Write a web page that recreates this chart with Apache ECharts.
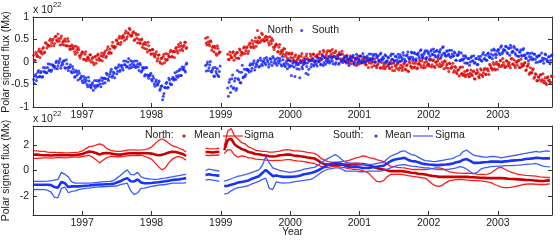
<!DOCTYPE html>
<html><head><meta charset="utf-8">
<script src="https://cdn.jsdelivr.net/npm/echarts@6/dist/echarts.min.js"></script>
<style>html,body{margin:0;padding:0;background:#fff}#c{width:560px;height:242px}</style>
</head><body><div id="c"></div>
<script>
// ---------------- DATA ----------------
const yearTicks = [1997, 1998, 1999, 2000, 2001, 2002, 2003];
const topYTicks = [-1, -0.5, 0, 0.5, 1];
const bottomYTicks = [-2, 0, 2];

// Top panel: polar signed flux samples, units of 1e20 Mx (0.01 x 1e22), cadence 0.02 yr, two interleaved sample sets
const topCadence = 0.02;
const topStarts = [1996.30, 1998.78, 1999.10];
const topStarts2 = [1996.31, 1998.79, 1999.11];
const northA = [15,4,17,13,29,21,18,32,22,42,38,35,51,42,51,41,57,46,52,38,58,44,38,46,36,46,29,35,30,35,17,27,32,14,15,23,6,17,3,11,4,16,6,-1,11,-3,15,9,5,20,12,20,10,28,19,29,20,44,35,34,47,42,57,44,56,55,64,51,65,75,59,60,67,50,60,43,50,41,51,39,30,39,22,36,26,18,28,14,17,2,15,1,8,-4,17,6,4,17,11,26,13,24,23,33,20,34,43,29,34,44,30];
const northB = [53,38,45,36,45,32,23,31,15,30,22];
const northC = [17,5,15,10,23,14,9,21,8,26,21,18,34,25,34,24,42,32,41,31,54,44,42,54,48,61,47,54,49,55,38,47,52,33,34,40,23,33,18,26,18,29,17,9,18,2,17,9,3,16,4,10,-2,13,1,9,-3,18,6,3,13,6,18,3,13,10,18,4,17,26,11,15,25,11,24,10,20,13,25,14,7,17,2,17,9,3,15,3,8,-4,10,-2,5,-8,13,1,-3,6,-2,9,-6,2,-2,5,-11,0,7,-9,-7,2,-14,-1,-14,-5,-11,2,-8,-15,-4,-19,-2,-9,-14,-2,-13,-7,-19,-4,-16,-8,-20,1,-10,-14,-3,-11,2,-13,-3,-6,2,-13,-1,7,-8,-5,4,-11,3,-10,0,-6,7,-4,-10,0,-15,1,-7,-14,-2,-14,-10,-23,-10,-23,-18,-31,-11,-25,-30,-21,-29,-18,-33,-25,-28,-21,-37,-25,-17,-32,-28,-18,-32,-17,-28,-16,-20,-5,-13,-18,-6,-18,0,-6,-10,4,-7,-1,-12,3,-9,-1,-13,8,-4,-8,1,-7,4,-12,-4,-8,-3,-19,-9,-4,-24,-24,-18,-36,-26,-41,-33,-40,-28,-39,-46,-35,-50,-33,-40,-45,-32];
const southA = [-39,-31,-41,-23,-33,-24,-34,-12,-22,-24,-12,-19,-5,-18,-8,-9,-1,-15,-2,7,-8,-5,3,-14,-4,-19,-12,-21,-10,-23,-32,-23,-40,-25,-35,-42,-32,-45,-41,-55,-42,-55,-50,-63,-41,-52,-54,-43,-49,-35,-48,-36,-37,-28,-41,-26,-16,-30,-25,-13,-26,-11,-21,-9,-13,2,-6,-11,0,-14,3,-4,-10,2,-10,-5,-19,-6,-20,-16,-31,-13,-29,-36,-29,-39,-31,-49,-44,-50,-46,-63,-54,-84,-70,-57,-45,-56,-40,-50,-37,-40,-24,-31,-34,-19,-30,-11,-16,-19,-5];
const southB = [-8,-5,-19,-6,-21,-17,-31,-12,-26,-30,-21];
const southC = [-58,-45,-68,-37,-59,-42,-63,-19,-40,-46,-23,-35,-16,-28,-16,-17,-7,-20,-6,3,-11,-7,4,-10,4,-8,2,-3,10,0,-5,6,-8,9,2,-3,9,-2,3,-9,5,-8,-2,-15,5,-8,-30,-3,-11,0,-15,-6,-35,-1,-15,-3,6,-10,-28,4,-11,3,-9,1,-4,9,0,-6,6,-8,10,3,-1,12,1,8,-4,11,-1,7,-5,16,4,-1,9,1,12,-3,6,4,11,-4,8,17,1,4,13,-1,12,0,10,5,18,8,3,14,0,17,9,4,17,6,11,-1,14,2,9,-3,18,6,2,12,5,17,2,11,8,15,1,14,22,7,11,20,6,19,7,17,12,25,16,10,21,7,25,18,13,27,16,23,11,26,15,22,11,32,20,15,24,15,26,10,18,14,20,4,15,22,4,6,14,-2,10,-3,7,0,13,3,-3,8,-6,12,6,3,17,7,15,4,20,10,18,7,29,18,16,27,20,33,19,28,26,34,19,30,37,21,23,31,15,27,13,22,15,27,16,9,19,3,19,11,5,18,6,12,0,15,3,9,-3,18,6,2,12,4,16];
const northA2 = [4,21,12,24,10,24,30,20,43,31,38,48,36,48,36,56,49,62,46,53,39,47,51,36,52,35,28,38,30,23,35,21,28,9,19,21,6,23,7,9,16,0,10,-6,13,5,18,4,14,3,16,24,13,34,22,20,36,33,31,49,40,53,39,53,59,48,69,56,62,72,57,65,48,64,53,61,43,49,33,41,44,29,44,26,18,28,19,11,23,8,16,-3,9,12,-1,19,6,13,23,11,23,10,30,25,39,26,36,25,37,44,32];
const northB2 = [42,55,40,47,26,35,35,19,36,19,22];
const northC2 = [6,22,10,21,4,17,21,9,29,15,21,31,19,31,19,39,34,48,35,46,35,47,55,44,64,50,46,57,49,43,56,41,48,28,38,38,23,39,22,24,30,13,21,4,20,10,20,4,12,-1,8,14,1,19,4,0,13,7,2,18,6,17,0,12,16,3,23,9,14,23,9,20,6,25,17,28,13,21,7,16,21,7,24,7,1,13,6,0,14,2,11,-6,6,8,-5,14,-1,2,10,-6,4,-12,5,-3,8,-8,0,-13,-4,2,-12,6,-9,-15,-2,-8,-13,1,-11,-2,-19,-7,-4,-18,1,-14,-10,-2,-17,-6,-21,-3,-10,2,-12,-3,-15,-5,2,-11,8,-7,-12,1,-4,-9,6,-6,5,-12,0,3,-10,8,-7,-4,3,-13,-4,-21,-4,-13,-3,-19,-12,-26,-18,-13,-27,-11,-27,-33,-20,-27,-32,-18,-30,-20,-38,-26,-23,-35,-15,-29,-24,-14,-27,-15,-28,-8,-14,-1,-15,-4,-16,-5,2,-10,8,-7,-11,2,-4,-8,7,-5,5,-12,-1,2,-12,6,-10,-7,-1,-17,-9,-27,-13,-24,-15,-33,-27,-42,-34,-29,-43,-26,-42,-47,-35,-41,-46,-31,-43];
const southA2 = [-48,-28,-34,-19,-32,-21,-32,-21,-13,-24,-4,-18,-21,-6,-11,-14,2,-9,2,-14,-1,2,-12,5,-13,-11,-6,-24,-16,-34,-19,-29,-20,-37,-31,-46,-39,-35,-50,-34,-51,-57,-46,-53,-57,-41,-51,-40,-55,-41,-36,-46,-25,-38,-32,-21,-34,-22,-35,-14,-20,-6,-18,-7,-18,-6,2,-10,8,-7,-12,1,-6,-12,2,-11,-3,-22,-12,-12,-28,-12,-31,-30,-25,-42,-36,-54,-40,-51,-42,-59,-53,-76,-56,-48,-58,-36,-48,-50,-34,-37,-39,-21,-30,-16,-30,-16,-11,-22,-2];
const southB2 = [-20,0,-13,1,-22,-13,-32,-21,-15,-32,-9];
const southC2 = [-76,-39,-54,-29,-57,-36,-59,-37,-22,-46,-7,-33,-32,-16,-19,-22,-4,-14,-2,-18,-4,0,-11,9,-5,0,8,-6,4,-11,8,0,12,-3,6,-7,2,8,-6,12,-4,-10,2,-5,-11,3,-9,0,-32,-6,-3,-16,4,-11,-6,2,-25,-2,-16,3,-5,8,-6,3,-9,1,8,-5,14,-1,-5,8,3,-2,13,2,12,-5,7,11,-2,17,2,5,13,-2,7,-8,10,3,15,0,9,-3,7,13,0,19,4,0,13,8,3,18,7,17,0,12,14,1,20,5,8,16,1,11,-4,14,6,18,3,12,0,10,16,3,21,6,2,16,10,6,22,10,21,4,17,20,8,27,13,17,25,10,21,6,24,17,29,15,24,11,22,28,16,34,19,13,25,18,12,26,13,22,4,15,17,3,20,4,7,14,-2,8,-7,10,2,14,-1,8,-5,6,13,2,21,7,4,18,13,10,26,15,26,10,24,28,16,36,22,26,35,21,31,15,32,24,35,19,27,13,22,27,13,30,14,8,20,12,6,20,7,17,-1,11,14,1,20,4,8,16,1,11,-4,14,6];

// Bottom panel: mean and mean +/- sigma (units of 1e22 Mx), cadence 0.05 yr, segments of 45, 5, 95 samples
const bottomCadence = 0.05;
const bottomStarts = [1996.30, 1998.78, 1999.05];
const bottomLengths = [45, 5, 95];
const northMean = [1.25,1.25,1.22,1.2,1.2,1.18,1.2,1.2,1.22,1.2, 1.2,1.2,1.22,1.25,1.3,1.4,1.49,1.45,1.38,1.25, 1.35,1.38,1.36,1.3,1.26,1.25,1.3,1.34,1.36,1.36, 1.35,1.36,1.36,1.36,1.33,1.25,1.2,1.23,1.32,1.42, 1.48,1.45,1.38,1.3,1.15,
  1.45,1.45,1.42,1.45,1.47,
  1.6,2.4,2.5,2.05,1.85,1.7,1.6,1.45,1.4,1.3, 1.28,1.22,1.18,1.12,1.1,1.12,1.2,1.22,1.25,1.25, 1.18,1.15,1.12,1.08,1.02,0.99,0.95,0.8,0.6,0.5, 0.45,0.45,0.47,0.45,0.45,0.47,0.45,0.5,0.52,0.5, 0.5,0.45,0.4,0.3,0.2,0.12,0.08,0.02,-0.05,-0.05, -0.05,-0.05,-0.08,-0.12,-0.18,-0.2,-0.25,-0.28,-0.31,-0.38, -0.42,-0.45,-0.5,-0.5,-0.5,-0.5,-0.5,-0.5,-0.5,-0.5, -0.5,-0.52,-0.53,-0.55,-0.57,-0.58,-0.6,-0.6,-0.6,-0.6, -0.6,-0.62,-0.65,-0.67,-0.68,-0.7,-0.72,-0.74,-0.75,-0.77, -0.8,-0.82,-0.82,-0.8,-0.78];
const northUpper = [1.55,1.55,1.5,1.5,1.45,1.42,1.42,1.4,1.4,1.38, 1.38,1.4,1.42,1.45,1.55,1.7,1.88,1.92,2.0,2.1, 2.0,1.75,1.6,1.55,1.5,1.5,1.55,1.6,1.62,1.62, 1.6,1.62,1.65,1.7,1.85,2.1,2.35,2.5,2.35,2.15, 1.95,1.85,1.75,1.65,1.45,
  1.75,1.72,1.7,1.72,1.75,
  1.9,3.1,3.3,2.7,2.45,2.2,2.1,1.85,1.75,1.6, 1.55,1.5,1.5,1.45,1.45,1.48,1.52,1.6,1.65,1.62, 1.55,1.55,1.52,1.48,1.42,1.39,1.35,1.2,0.95,0.8, 0.7,0.65,0.6,0.65,0.7,0.73,0.8,0.9,1.0,1.05, 1.15,1.1,0.99,0.95,0.85,0.78,0.7,0.5,0.34,0.3, 0.25,0.22,0.2,0.15,0.08,0.08,0.08,0.08,0.08,0.1, 0.15,0.2,0.2,0.15,0.0,-0.1,-0.15,-0.2,-0.2,-0.22, -0.2,-0.22,-0.25,-0.28,-0.3,-0.3,-0.28,-0.2,0.0,0.2, 0.25,0.1,-0.05,-0.15,-0.25,-0.3,-0.35,-0.38,-0.4,-0.42, -0.45,-0.5,-0.52,-0.55,-0.55];
const northLower = [0.95,0.95,0.98,1.0,1.0,0.98,1.0,1.02,1.02,1.0, 1.02,1.05,1.05,1.05,1.1,1.15,1.2,1.05,0.85,0.6, 0.8,1.0,1.1,1.1,1.08,1.1,1.12,1.15,1.18,1.18, 1.18,1.2,1.12,1.02,0.9,0.6,0.3,0.05,0.22,0.6, 0.9,1.05,1.1,1.0,0.8,
  1.2,1.18,1.2,1.2,1.22,
  1.3,1.65,1.6,1.2,1.05,1.15,1.1,1.0,1.0,0.9, 0.88,0.85,0.82,0.8,0.78,0.8,0.8,0.82,0.85,0.86, 0.8,0.75,0.73,0.7,0.65,0.6,0.55,0.45,0.3,0.22, 0.25,0.3,0.34,0.3,0.25,0.21,0.15,0.1,0.1,0.05, 0.0,-0.1,-0.3,-0.6,-0.85,-0.9,-0.8,-0.5,-0.31,-0.3, -0.3,-0.31,-0.35,-0.4,-0.44,-0.48,-0.52,-0.57,-0.6,-0.8, -1.05,-1.2,-1.25,-1.15,-0.95,-0.8,-0.75,-0.72,-0.7,-0.72, -0.75,-0.78,-0.8,-0.8,-0.82,-0.86,-0.9,-0.95,-1.1,-1.2, -1.3,-1.35,-1.35,-1.3,-1.25,-1.2,-1.12,-1.08,-1.05,-1.06, -1.08,-1.1,-1.1,-1.08,-1.05];
const southMean = [-1.12,-1.12,-1.12,-1.12,-1.12,-1.15,-1.3,-1.35,-0.9,-1.0, -1.3,-1.25,-1.25,-1.25,-1.22,-1.2,-1.18,-1.15,-1.12,-1.1, -1.1,-1.08,-1.07,-1.05,-0.95,-0.85,-0.7,-0.6,-0.85,-0.86, -0.7,-0.95,-1.0,-1.0,-0.98,-0.95,-0.92,-0.88,-0.85,-0.8, -0.75,-0.72,-0.7,-0.65,-0.6,
  -0.35,-0.3,-0.35,-0.38,-0.4,
  -1.23,-1.2,-1.12,-1.05,-0.95,-0.9,-0.85,-0.78,-0.65,-0.55, -0.45,-0.2,0.05,-0.2,-0.44,-0.4,-0.45,-0.5,-0.5,-0.5, -0.48,-0.45,-0.4,-0.3,-0.25,-0.2,-0.12,0.0,0.15,0.3, 0.45,0.52,0.6,0.58,0.5,0.35,0.3,0.3,0.32,0.25, 0.2,0.2,0.21,0.25,0.3,0.34,0.38,0.55,0.73,0.85, 0.9,0.95,1.0,0.85,0.75,0.72,0.65,0.55,0.5,0.47, 0.45,0.42,0.42,0.45,0.47,0.5,0.55,0.65,0.7,0.85, 0.9,0.75,0.6,0.6,0.62,0.65,0.67,0.7,0.7,0.7, 0.68,0.72,0.74,0.78,0.8,0.82,0.85,0.9,0.93,0.95, 1.0,0.98,0.95,0.95,0.95];
const southUpper = [-0.86,-0.85,-0.85,-0.86,-0.84,-0.8,-0.75,-0.7,-0.15,-0.3, -0.5,-0.9,-1.0,-1.0,-1.0,-1.0,-1.0,-0.98,-0.95,-0.92, -0.9,-0.88,-0.86,-0.8,-0.6,-0.4,-0.15,0.05,-0.3,-0.34, -0.15,-0.5,-0.6,-0.65,-0.68,-0.7,-0.68,-0.62,-0.6,-0.55, -0.5,-0.45,-0.4,-0.35,-0.3,
  0.0,0.1,0.05,0.0,-0.05,
  -0.84,-0.75,-0.65,-0.55,-0.45,-0.4,-0.33,-0.25,-0.15,-0.05, 0.05,0.4,1.1,0.6,0.2,0.1,0.0,-0.05,-0.1,-0.15, -0.1,-0.05,0.0,0.1,0.15,0.2,0.25,0.4,0.6,0.8, 0.95,1.1,1.25,1.1,0.85,0.65,0.6,0.55,0.55,0.55, 0.5,0.47,0.47,0.5,0.55,0.6,0.65,0.9,1.12,1.25, 1.35,1.5,1.55,1.4,1.25,1.2,1.05,0.9,0.78,0.75, 0.72,0.7,0.75,0.8,0.85,0.9,0.95,1.1,1.2,1.5, 1.6,1.4,1.2,1.15,1.1,1.05,1.05,1.1,1.1,1.05, 1.0,1.05,1.1,1.15,1.2,1.25,1.3,1.35,1.4,1.45, 1.5,1.45,1.5,1.55,1.5];
const southLower = [-1.5,-1.48,-1.5,-1.5,-1.55,-1.7,-2.1,-2.15,-1.4,-1.3, -1.75,-1.65,-1.6,-1.5,-1.45,-1.4,-1.38,-1.35,-1.3,-1.28, -1.28,-1.27,-1.25,-1.25,-1.2,-1.12,-1.05,-1.0,-1.6,-1.9, -1.75,-1.4,-1.39,-1.3,-1.25,-1.2,-1.15,-1.12,-1.1,-1.05, -1.0,-1.0,-1.0,-1.0,-0.95,
  -0.75,-0.7,-0.75,-0.8,-0.85,
  -1.85,-1.8,-1.6,-1.45,-1.35,-1.3,-1.25,-1.18,-1.05,-0.95, -0.85,-0.7,-0.6,-1.4,-1.5,-0.9,-0.95,-1.0,-0.97,-0.95, -0.9,-0.86,-0.82,-0.78,-0.74,-0.7,-0.55,-0.35,-0.15,0.0, 0.1,0.15,0.2,0.2,0.1,-0.05,-0.05,-0.05,-0.05,-0.1, -0.1,-0.08,-0.05,-0.05,-0.05,-0.05,0.0,0.1,0.21,0.3, 0.4,0.45,0.47,0.4,0.34,0.32,0.28,0.25,0.21,0.2, 0.15,0.1,0.08,0.08,0.08,0.1,0.15,0.2,0.3,0.25, 0.1,-0.1,-0.25,-0.15,0.1,0.2,0.25,0.3,0.32,0.34, 0.35,0.38,0.38,0.38,0.4,0.42,0.45,0.48,0.5,0.52, 0.55,0.45,0.35,0.3,0.28];

// ---------------- BUILD ----------------
const r3 = v => Math.round(v * 1000) / 1000;
function scatterPts(segs, starts) {
  const out = [];
  segs.forEach((vals, s) => vals.forEach((v, i) => out.push([r3(starts[s] + i * topCadence), v / 100])));
  return out;
}
function linePts(vals) {
  const out = []; let idx = 0;
  bottomLengths.forEach((n, s) => {
    if (s > 0) out.push([r3(bottomStarts[s] - 0.02), '-']);
    for (let i = 0; i < n; i++) out.push([r3(bottomStarts[s] + i * bottomCadence), vals[idx++]]);
  });
  return out;
}

const FONT = 'Liberation Sans';
const AX = '#333';
const TXT = '#222';
const xMin = 1996.29, xMax = 2003.78;

function xAxisDef(gridIndex, pos, labels, name) {
  return {
    type: 'value', gridIndex, position: pos, min: xMin, max: xMax,
    axisLine: { show: true, onZero: false, lineStyle: { color: AX, width: 1 } },
    axisTick: { show: true, inside: true, length: 4, customValues: yearTicks, lineStyle: { color: AX } },
    axisLabel: { show: labels, customValues: yearTicks, margin: 3, color: TXT, fontFamily: FONT, fontSize: 10.5, formatter: v => String(v) },
    splitLine: { show: false },
    name: name || '', nameLocation: 'middle', nameGap: 12, nameMoveOverlap: false,
    nameTextStyle: { color: TXT, fontFamily: FONT, fontSize: 10.5, verticalAlign: 'top' }
  };
}
function yAxisDef(gridIndex, pos, labels, min, max, ticks, name) {
  return {
    type: 'value', gridIndex, position: pos, min, max,
    axisLine: { show: true, onZero: false, lineStyle: { color: AX, width: 1 } },
    axisTick: { show: true, inside: true, length: 4, customValues: ticks, lineStyle: { color: AX } },
    axisLabel: { show: labels, customValues: ticks, margin: 4, color: TXT, fontFamily: FONT, fontSize: 10.5 },
    splitLine: { show: false },
    name: name || '', nameLocation: 'middle', nameGap: 27, nameMoveOverlap: false,
    nameTextStyle: { color: TXT, fontFamily: FONT, fontSize: 10.5, verticalAlign: 'middle' }
  };
}

const RED_DOT = '#e00000', BLUE_DOT = '#1020ff';
const RED_MEAN = '#c80000', RED_SIG = '#ff1c1c';
const BLUE_MEAN = '#1a34f5', BLUE_SIG = '#3d5cff';

function lineSeries(name, vals, color, width, z) {
  return { name, type: 'line', xAxisIndex: 2, yAxisIndex: 2, data: linePts(vals), showSymbol: false, symbol: 'none',
    connectNulls: false, lineStyle: { color, width }, itemStyle: { color }, z, silent: true };
}

const chart = echarts.init(document.getElementById('c'), null, { renderer: 'canvas' });
chart.setOption({
  animation: false,
  backgroundColor: '#fff',
  grid: [
    { left: 33, top: 17, width: 519, height: 90, outerBoundsMode: 'none', containLabel: false },
    { left: 33, top: 126, width: 519, height: 89, outerBoundsMode: 'none', containLabel: false }
  ],
  xAxis: [
    xAxisDef(0, 'bottom', true), xAxisDef(0, 'top', false),
    xAxisDef(1, 'bottom', true, 'Year'), xAxisDef(1, 'top', false)
  ],
  yAxis: [
    yAxisDef(0, 'left', true, -1, 1, topYTicks, 'Polar signed flux (Mx)'), yAxisDef(0, 'right', false, -1, 1, topYTicks),
    yAxisDef(1, 'left', true, -3.5, 3.5, bottomYTicks, 'Polar signed flux (Mx)'), yAxisDef(1, 'right', false, -3.5, 3.5, bottomYTicks)
  ],
  legend: {
    data: [{ name: 'North', icon: 'circle' }, { name: 'South', icon: 'circle' }],
    left: 251, top: 20, itemWidth: 10, itemHeight: 3, itemGap: 7,
    textStyle: { color: TXT, fontFamily: FONT, fontSize: 10.5 }, selectedMode: false
  },
  series: [
    { name: 'North', type: 'scatter', xAxisIndex: 0, yAxisIndex: 0, symbolSize: 3, itemStyle: { color: RED_DOT },
      data: scatterPts([northA, northB, northC], topStarts).concat(scatterPts([northA2, northB2, northC2], topStarts2)), silent: true },
    { name: 'South', type: 'scatter', xAxisIndex: 0, yAxisIndex: 0, symbolSize: 3, itemStyle: { color: BLUE_DOT },
      data: scatterPts([southA, southB, southC], topStarts).concat(scatterPts([southA2, southB2, southC2], topStarts2)), silent: true },
    lineSeries('North Sigma +', northUpper, RED_SIG, 1.3, 2),
    lineSeries('North Sigma -', northLower, RED_SIG, 1.3, 2),
    lineSeries('North Mean', northMean, RED_MEAN, 2.6, 3),
    lineSeries('South Sigma +', southUpper, BLUE_SIG, 1.3, 4),
    lineSeries('South Sigma -', southLower, BLUE_SIG, 1.3, 4),
    lineSeries('South Mean', southMean, BLUE_MEAN, 2.6, 5)
  ],
  graphic: [
    { type: 'text', left: 33, top: 5, style: { text: 'x 10', fill: TXT, font: '10.5px "Liberation Sans"' } },
    { type: 'text', left: 53, top: 1, style: { text: '22', fill: TXT, font: '7.5px "Liberation Sans"' } },
    { type: 'text', left: 33, top: 114, style: { text: 'x 10', fill: TXT, font: '10.5px "Liberation Sans"' } },
    { type: 'text', left: 53, top: 110, style: { text: '22', fill: TXT, font: '7.5px "Liberation Sans"' } },
    { type: 'text', left: 145, top: 130, style: { text: 'North:', fill: TXT, font: '10.5px "Liberation Sans"' } },
    { type: 'circle', shape: { cx: 184, cy: 136, r: 1.5 }, style: { fill: RED_MEAN } },
    { type: 'text', left: 194, top: 130, style: { text: 'Mean', fill: TXT, font: '10.5px "Liberation Sans"' } },
    { type: 'line', shape: { x1: 223, y1: 136, x2: 243, y2: 136 }, style: { stroke: RED_SIG, lineWidth: 1.2 } },
    { type: 'text', left: 244, top: 130, style: { text: 'Sigma', fill: TXT, font: '10.5px "Liberation Sans"' } },
    { type: 'text', left: 333, top: 130, style: { text: 'South:', fill: TXT, font: '10.5px "Liberation Sans"' } },
    { type: 'circle', shape: { cx: 376, cy: 136, r: 1.5 }, style: { fill: BLUE_MEAN } },
    { type: 'text', left: 385, top: 130, style: { text: 'Mean', fill: TXT, font: '10.5px "Liberation Sans"' } },
    { type: 'line', shape: { x1: 413, y1: 136, x2: 433, y2: 136 }, style: { stroke: BLUE_SIG, lineWidth: 1.2 } },
    { type: 'text', left: 435, top: 130, style: { text: 'Sigma', fill: TXT, font: '10.5px "Liberation Sans"' } }
  ]
});
</script></body></html>
